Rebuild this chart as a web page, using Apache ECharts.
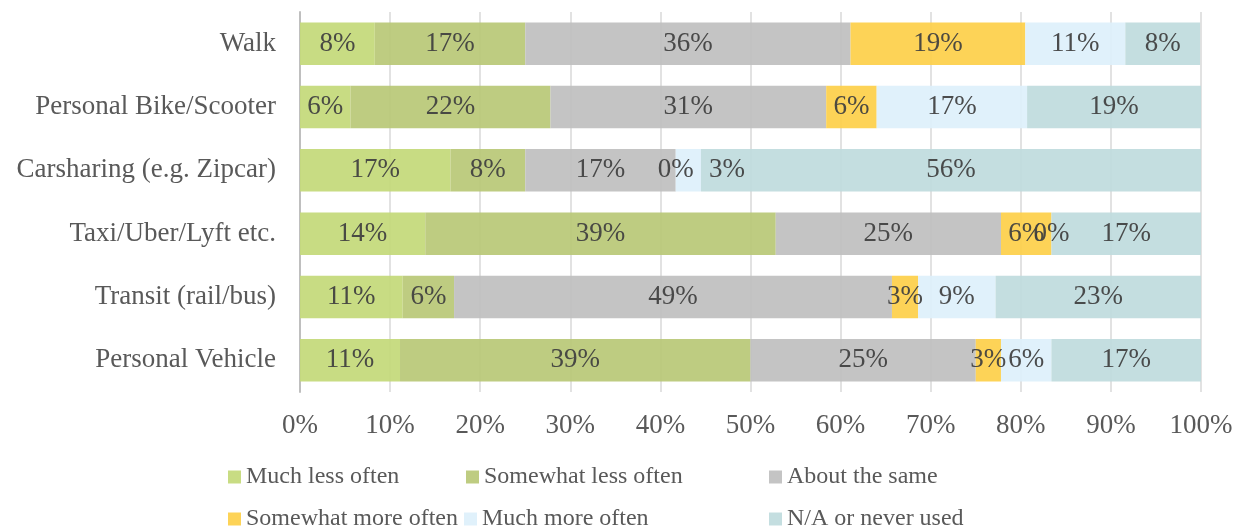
<!DOCTYPE html>
<html><head><meta charset="utf-8">
<script src="https://cdn.jsdelivr.net/npm/echarts@6/dist/echarts.min.js"></script>
<style>html,body{margin:0;padding:0;background:#fff}#c{width:1238px;height:531px}</style>
</head><body><div id="c"></div>
<script>
const categories = ['Personal Vehicle','Transit (rail/bus)','Taxi/Uber/Lyft etc.','Carsharing (e.g. Zipcar)','Personal Bike/Scooter','Walk'];
const seriesNames = ['Much less often','Somewhat less often','About the same','Somewhat more often','Much more often','N/A or never used'];
const muchLess     = [11.1, 11.4, 13.9, 16.7,  5.6,  8.3];
const somewhatLess = [38.9,  5.7, 38.9,  8.3, 22.2, 16.7];
const aboutSame    = [25.0, 48.6, 25.0, 16.7, 30.6, 36.1];
const somewhatMore = [ 2.8,  2.9,  5.6,  0.0,  5.6, 19.4];
const muchMore     = [ 5.6,  8.6,  0.0,  2.8, 16.7, 11.1];
const naNever      = [16.7, 22.9, 16.7, 55.6, 19.4,  8.3];
const xTicks = [0,10,20,30,40,50,60,70,80,90,100];
const colors = ['#c4d97a','#b9c877','#bfbfbf','#fdd04a','#def0fb','#c0dbde'];
const values = [muchLess, somewhatLess, aboutSame, somewhatMore, muchMore, naNever];
const font = '"Liberation Serif", "Times New Roman", serif';
const chart = echarts.init(document.getElementById('c'));
const series = seriesNames.map((n,i)=>({
  name:n, type:'bar', stack:'all', barCategoryGap:'33%',
  data:values[i].map((v,j)=>{
    // a tiny segment following an empty one gets its label moved out to the right
    if (i>0 && values[i-1][j]===0 && v>0 && v<4) return {value:v,label:{position:'right',distance:8}};
    return v;
  }),
  itemStyle:{color:colors[i], opacity:0.93},
  label:{show:true, position:'inside', color:'#404040', fontFamily:font, fontSize:27,
    formatter:p=>Math.round(p.value)+'%'}
}));
const legendPos = [[228,465],[466,465],[769,465],[228,507],[464,507],[769,507]];
chart.setOption({
  animation:false,
  textStyle:{fontFamily:font},
  grid:{left:300,right:37,top:12,bottom:139,containLabel:false},
  xAxis:{type:'value',min:0,max:100,interval:10,
    axisLine:{show:false},axisTick:{show:false},
    splitLine:{show:true,lineStyle:{color:'#d9d9d9',width:1.5}},
    axisLabel:{fontSize:27,color:'#595959',fontFamily:font,margin:20,
      formatter:v=>xTicks.includes(v)?v+'%':''}},
  yAxis:{type:'category',data:categories,
    axisLine:{show:true,lineStyle:{color:'#bfbfbf',width:2}},axisTick:{show:false},
    axisLabel:{fontSize:27,color:'#595959',fontFamily:font,margin:24}},
  legend:seriesNames.map((n,k)=>({
    data:[n], left:legendPos[k][0], top:legendPos[k][1], padding:0,
    itemWidth:13,itemHeight:13,itemGap:4,icon:'rect',
    textStyle:{fontSize:24,color:'#595959',fontFamily:font}
  })),
  series
});
</script></body></html>
